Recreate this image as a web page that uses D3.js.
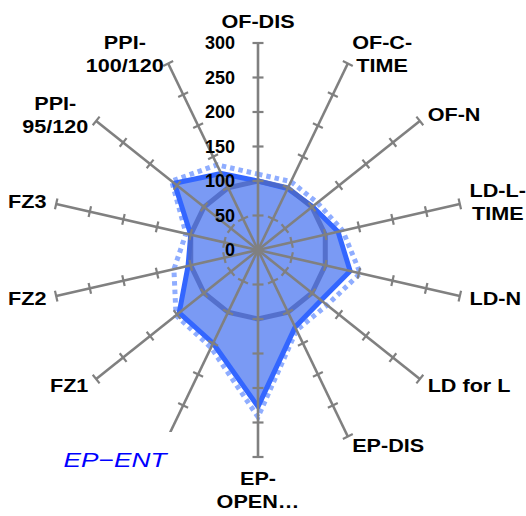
<!DOCTYPE html>
<html>
<head>
<meta charset="utf-8">
<script src="https://cdn.jsdelivr.net/npm/d3@7"></script>
<style>
    body { margin: 0; background: #fff; }
    text { font-family: "Liberation Sans", Arial, sans-serif; }
</style>
</head>
<body>
<svg id="radar" width="526" height="516"></svg>
<script>
// axis names, clockwise from the top
var categories = ['OF-DIS', 'OF-C-\nTIME', 'OF-N', 'LD-L-\nTIME', 'LD-N', 'LD for L', 'EP-DIS',
    'EP-\nOPEN…', 'EP-ENT', 'FZ1', 'FZ2', 'FZ3', 'PPI-\n95/120', 'PPI-\n100/120']
var solidValues = [100, 99, 101, 119, 137, 117, 124, 227, 150, 146, 104, 100, 155, 123]
var dottedValues = [110, 110, 110, 126, 152, 128, 129, 242, 157, 152, 125, 107, 160, 137]
var refValues = [100, 100, 100, 100, 100, 100, 100, 100, 100, 100, 100, 100, 100, 100]
var tickValues = [0, 50, 100, 150, 200, 250, 300]
var chartTitle = 'EP−ENT'

var cx = 258, cy = 250, radius = 207
var n = categories.length

var svg = d3.select('#radar')
var g = svg.append('g').attr('transform', 'translate(' + cx + ',' + cy + ')')

var r = d3.scaleLinear().domain([0, 300]).range([0, radius])
var angle = function (i) { return i * 2 * Math.PI / n }

var radial = d3.lineRadial()
    .angle(function (d, i) { return angle(i) })
    .radius(function (d) { return r(d) })
    .curve(d3.curveLinearClosed)

// filled area of the main series
g.append('path')
    .datum(solidValues)
    .attr('d', radial)
    .attr('fill', '#7a9af4')
    .attr('stroke', 'none')

// dotted series
g.append('path')
    .datum(dottedValues)
    .attr('d', radial)
    .attr('fill', 'none')
    .attr('stroke', '#8fadff')
    .attr('stroke-width', 5)
    .attr('stroke-dasharray', '4.5 4')

// solid outline
g.append('path')
    .datum(solidValues)
    .attr('d', radial)
    .attr('fill', 'none')
    .attr('stroke', '#3366ff')
    .attr('stroke-width', 5)
    .attr('stroke-linejoin', 'round')

// reference ring at 100
g.append('path')
    .datum(refValues)
    .attr('d', radial)
    .attr('fill', 'none')
    .attr('stroke', '#4d69c4')
    .attr('stroke-opacity', 0.85)
    .attr('stroke-width', 5)

// spokes + ticks
var axisCol = '#808080'
categories.forEach(function (c, i) {
    var a = angle(i)
    var dx = Math.sin(a), dy = -Math.cos(a)
    g.append('line')
        .attr('x1', 0).attr('y1', 0)
        .attr('x2', dx * r(300)).attr('y2', dy * r(300))
        .attr('stroke', axisCol)
        .attr('stroke-width', 2.6)

    g.selectAll('.tick' + i)
        .data(tickValues.slice(1))
        .enter().append('line')
        .attr('class', 'tick' + i)
        .attr('x1', function (d) { return dx * r(d) - dy * 5.5 })
        .attr('y1', function (d) { return dy * r(d) + dx * 5.5 })
        .attr('x2', function (d) { return dx * r(d) + dy * 5.5 })
        .attr('y2', function (d) { return dy * r(d) - dx * 5.5 })
        .attr('stroke', axisCol)
        .attr('stroke-width', 2.2)
})

// value labels along the top axis
g.selectAll('.vlabel')
    .data(tickValues)
    .enter().append('text')
    .attr('class', 'vlabel')
    .attr('x', -23)
    .attr('y', function (d) { return -r(d) })
    .attr('dy', '0.36em')
    .attr('text-anchor', 'end')
    .attr('font-size', 18)
    .attr('font-weight', 'bold')
    .text(function (d) { return d })

// category labels
var stretch = 1.2, lineH = 23, gap = 10
categories.forEach(function (c, i) {
    if (i === 8) return // hidden behind the title box
    var a = angle(i)
    var dx = Math.sin(a), dy = -Math.cos(a)
    var lines = c.split('\n')
    var lg = g.append('g')
    var t = lg.append('text')
        .attr('text-anchor', 'middle')
        .attr('font-size', 18)
        .attr('font-weight', 'bold')
        .attr('transform', 'scale(' + stretch + ',1)')
    lines.forEach(function (s, k) {
        t.append('tspan')
            .attr('x', 0)
            .attr('y', -(lines.length - 1) * lineH / 2 + k * lineH + 6.4)
            .text(s)
    })
    var w = d3.max(t.selectAll('tspan').nodes(), function (nd) { return nd.getComputedTextLength() }) * stretch
    var h = lines.length * lineH
    var ex = dx * (r(300) + gap), ey = dy * (r(300) + gap)
    var px, py
    if (Math.abs(dx) > 0.3) {
        px = ex + Math.sign(dx) * w / 2
        py = ey
    } else {
        px = ex
        py = ey + Math.sign(dy) * h / 2
    }
    lg.attr('transform', 'translate(' + px + ',' + py + ')')
})

// title box
svg.append('rect')
    .attr('x', 45).attr('y', 432)
    .attr('width', 150).attr('height', 55)
    .attr('fill', '#fff')
svg.append('text')
    .attr('transform', 'translate(115,467) scale(1.25,1)')
    .attr('text-anchor', 'middle')
    .attr('font-size', 21)
    .attr('font-style', 'italic')
    .attr('fill', '#0000ff')
    .text(chartTitle)
</script>
</body>
</html>
